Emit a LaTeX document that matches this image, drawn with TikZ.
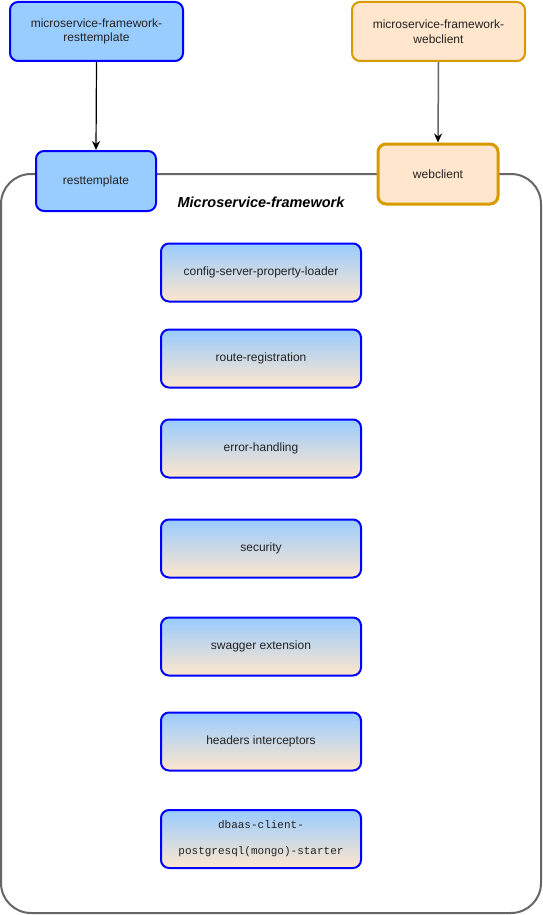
\documentclass[tikz,border=0pt]{standalone}
\usepackage{fontspec}
\setmainfont{Liberation Sans}
\newfontfamily\monof{Liberation Mono}
\usetikzlibrary{arrows.meta,shadings}
\definecolor{lblue}{HTML}{99CCFF}
\definecolor{lorange}{HTML}{FFE6CC}
\definecolor{dorange}{HTML}{D79B00}
\definecolor{dgray}{HTML}{666666}
\definecolor{txt}{HTML}{222222}
\tikzset{
  bluebox/.style={draw=blue, line width=2pt, fill=lblue, rounded corners=8pt, align=center, text=txt, font=\fontsize{12}{14.5}\selectfont},
  orangebox/.style={draw=dorange, line width=2pt, fill=lorange, rounded corners=8pt, align=center, text=txt, font=\fontsize{12}{14.5}\selectfont},
  gradbox/.style={draw=blue, line width=2pt, top color=lblue, bottom color=lorange, rounded corners=8pt, align=center, text=txt, minimum width=200pt, minimum height=58pt, font=\fontsize{12}{14.5}\selectfont},
  conn/.style={-{Stealth[length=9pt,width=8pt]}, line width=1.2pt}
}
\begin{document}
\begin{tikzpicture}[x=1pt,y=-1pt]
\useasboundingbox (0,0) rectangle (543,915);
\fill[white] (0,0) rectangle (543,915);
% container
\draw[dgray, line width=2pt, rounded corners=30pt] (1,174) rectangle (541,913);
\node[font=\fontsize{14.5}{17}\selectfont\bfseries\itshape] (title) at (261,202) {Microservice-framework};
% top boxes
\node[bluebox, minimum width=173pt, minimum height=59pt] (mfrt) at (96.5,31.5) {microservice-framework-\\resttemplate};
\node[orangebox, minimum width=173pt, minimum height=59pt] (mfwc) at (438.5,31.5) {microservice-framework-\\webclient};
\node[bluebox, minimum width=120pt, minimum height=60pt] (rt) at (96,181) {resttemplate};
\node[orangebox, line width=3pt, minimum width=120pt, minimum height=60pt] (wc) at (438,174) {webclient};
\draw[conn] (mfrt.south) -- (rt.north);
\draw[-{Stealth[length=9pt,width=8pt,color=black]}, line width=1.5pt, dgray] (mfwc.south) -- (wc.north);
% inner boxes
\node[gradbox] (b1) at (261,272.5) {config-server-property-loader};
\node[gradbox] (b2) at (261,358.5) {route-registration};
\node[gradbox] (b3) at (261,448.5) {error-handling};
\node[gradbox] (b4) at (261,548.5) {security};
\node[gradbox] (b5) at (261,646.5) {swagger extension};
\node[gradbox] (b6) at (261,741.5) {headers interceptors};
\node[gradbox, font=\monof\fontsize{11}{26}\selectfont] (b7) at (261,839) {dbaas-client-\\postgresql(mongo)-starter};
\end{tikzpicture}
\end{document}
